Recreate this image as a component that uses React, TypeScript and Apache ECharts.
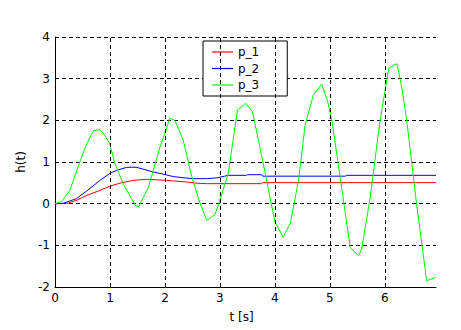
import React, { useEffect, useRef } from "react";
import * as echarts from "echarts";

// Time axis / value axis settings
const tMax = 6.93;
const xGridTicks = [1, 2, 3, 4, 5, 6];
const yMin = -2;
const yMax = 4;

const seriesNames = ["p_1", "p_2", "p_3"];

// p_1 (red)
const tP1 = [0, 0.21, 0.39, 0.58, 0.8, 1.0, 1.2, 1.43, 1.67, 2.03, 2.2, 2.4, 2.6, 2.76, 3.18, 3.76, 3.78, 6.93];
const hP1 = [0, 0, 0.08, 0.2, 0.31, 0.42, 0.5, 0.56, 0.585, 0.56, 0.54, 0.52, 0.49, 0.48, 0.48, 0.48, 0.505, 0.505];

// p_2 (blue)
const tP2 = [0, 0.15, 0.39, 0.6, 0.82, 1.0, 1.12, 1.3, 1.4, 1.49, 1.79, 2.0, 2.15, 2.35, 2.52, 2.76, 2.95, 3.15, 3.48, 3.5, 3.76, 3.78, 5.28, 5.3, 6.93];
const hP2 = [0, 0.01, 0.12, 0.33, 0.56, 0.73, 0.8, 0.87, 0.875, 0.87, 0.76, 0.7, 0.65, 0.62, 0.6, 0.6, 0.62, 0.68, 0.68, 0.695, 0.695, 0.66, 0.66, 0.68, 0.68];

// p_3 (green)
const tP3 = [0, 0.12, 0.27, 0.44, 0.58, 0.7, 0.81, 0.88, 0.99, 1.09, 1.25, 1.46, 1.52, 1.7, 1.91, 2.09, 2.18, 2.33, 2.49, 2.64, 2.76, 2.91, 3.0, 3.15, 3.32, 3.47, 3.59, 3.7, 3.85, 4.0, 4.15, 4.28, 4.43, 4.55, 4.7, 4.85, 4.96, 5.04, 5.19, 5.37, 5.52, 5.58, 5.73, 5.91, 6.07, 6.22, 6.31, 6.4, 6.58, 6.76, 6.92];
const hP3 = [0, 0.05, 0.32, 0.96, 1.45, 1.75, 1.78, 1.69, 1.46, 0.96, 0.45, -0.04, -0.08, 0.4, 1.36, 2.05, 2.0, 1.53, 0.64, 0, -0.4, -0.26, 0.08, 0.72, 2.25, 2.41, 2.21, 1.53, 0.56, -0.44, -0.8, -0.47, 0.56, 1.89, 2.61, 2.87, 2.45, 1.97, 0.6, -1.05, -1.25, -1.08, 0.12, 1.97, 3.25, 3.36, 2.77, 1.97, -0.04, -1.85, -1.77];

const colors = ["#ff0000", "#0000ff", "#00ff00"];

const FONT = "DejaVu Sans";

function pairs(t: number[], h: number[]) {
  return t.map((x, i) => [x, h[i]]);
}

export default function App() {
  const ref = useRef<HTMLDivElement>(null);
  useEffect(() => {
    if (!ref.current) return;
    const chart = echarts.init(ref.current, null, { renderer: "svg" });
    const dataSets = [pairs(tP1, hP1), pairs(tP2, hP2), pairs(tP3, hP3)];
    const dash = [4, 3];
    chart.setOption({
      animation: false,
      backgroundColor: "#ffffff",
      grid: { left: 55, right: 25, top: 37, bottom: 43, containLabel: false },
      legend: {
        data: seriesNames,
        orient: "vertical",
        left: 203,
        top: 41,
        icon: "rect",
        itemWidth: 21,
        itemHeight: 1.2,
        itemGap: 2.5,
        padding: [4, 28, 4, 9],
        borderColor: "#000",
        borderWidth: 1,
        backgroundColor: "#fff",
        textStyle: { fontFamily: FONT, fontSize: 12, color: "#000", lineHeight: 14 },
      },
      xAxis: {
        type: "value",
        min: 0,
        max: tMax,
        interval: 1,
        name: "t [s]",
        nameLocation: "middle",
        nameGap: 24,
        nameTextStyle: { fontFamily: FONT, fontSize: 12, color: "#000", padding: [0, 8, 0, 0] },
        axisLine: { show: true, onZero: false, lineStyle: { color: "#000", width: 1 } },
        axisTick: { show: false },
        axisLabel: { fontFamily: FONT, fontSize: 12, color: "#000", margin: 5, showMaxLabel: false },
        splitLine: { show: false },
      },
      yAxis: {
        type: "value",
        min: yMin,
        max: yMax,
        interval: 1,
        name: "h(t)",
        nameLocation: "middle",
        nameGap: 19,
        nameTextStyle: { fontFamily: FONT, fontSize: 12, color: "#000" },
        axisLine: { show: true, onZero: false, lineStyle: { color: "#000", width: 1 } },
        axisTick: { show: false },
        axisLabel: { fontFamily: FONT, fontSize: 12, color: "#000", margin: 5 },
        splitLine: { show: true, lineStyle: { color: "#000", width: 1, type: dash } },
      },
      series: [
        {
          name: "_grid",
          type: "line",
          data: [],
          z: 1,
          silent: true,
          markLine: {
            silent: true,
            symbol: "none",
            animation: false,
            label: { show: false },
            lineStyle: { color: "#000", width: 1, type: dash },
            data: xGridTicks.map((x) => ({ xAxis: x })),
          },
        },
        ...seriesNames.map((name, i) => ({
          name,
          type: "line",
          data: dataSets[i],
          showSymbol: false,
          symbol: "none",
          z: 3,
          lineStyle: { color: colors[i], width: 1 },
          itemStyle: { color: colors[i] },
        })),
      ],
    });
    return () => chart.dispose();
  }, []);
  return (
    <div
      ref={ref}
      style={{ position: "fixed", left: 0, top: 0, width: 461, height: 330, background: "#fff" }}
    />
  );
}
